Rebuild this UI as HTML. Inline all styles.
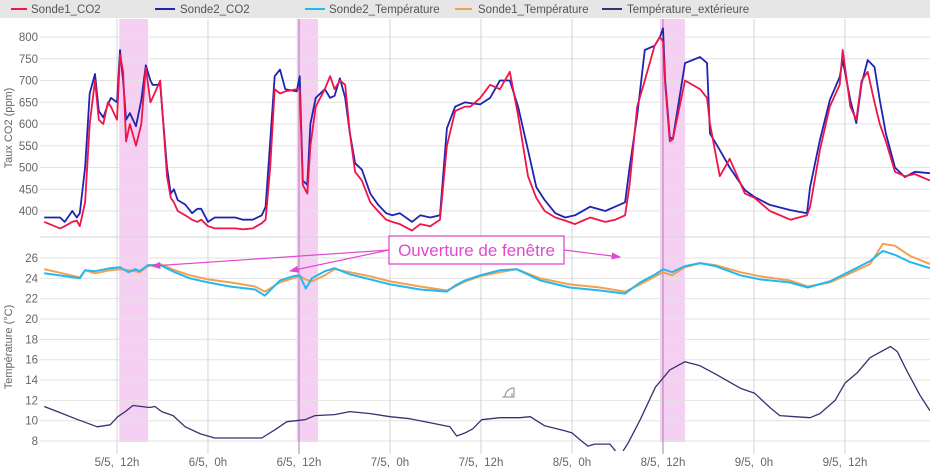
<!DOCTYPE html>
<html><head><meta charset="utf-8"><style>
body{margin:0;background:#fff;}
svg{display:block;font-family:"Liberation Sans",sans-serif;}
.xl{white-space:pre;}
</style></head><body>
<svg id="chart" width="930" height="471" viewBox="0 0 930 471">
<defs>
<clipPath id="clipTop"><rect x="44" y="18" width="886" height="219"/></clipPath>
<clipPath id="clipBot"><rect x="44" y="237" width="886" height="214"/></clipPath>
<marker id="arr" markerWidth="8" markerHeight="8" refX="7" refY="4" orient="auto"><path d="M0,1 L8,4 L0,7 z" fill="#e04ad0"/></marker>
</defs>
<rect x="0" y="0" width="930" height="18" fill="#e6e6e6"/>
<g font-size="11.5" fill="#555">
<g><line x1="11" y1="9" x2="27" y2="9" stroke="#f0144a" stroke-width="2"/><text x="31" y="13">Sonde1_CO2</text></g>
<g><line x1="155" y1="9" x2="175" y2="9" stroke="#1f24b0" stroke-width="2"/><text x="180" y="13">Sonde2_CO2</text></g>
<g><line x1="305" y1="9" x2="325" y2="9" stroke="#22b8f0" stroke-width="2"/><text x="329" y="13">Sonde2_Température</text></g>
<g><line x1="455" y1="9" x2="472" y2="9" stroke="#f5a050" stroke-width="2"/><text x="478" y="13">Sonde1_Température</text></g>
<g><line x1="602" y1="9" x2="622" y2="9" stroke="#3b2f70" stroke-width="2"/><text x="627" y="13">Température_extérieure</text></g>
</g>
<g id="bands"></g>
<g id="grid"></g>
<g id="axes" font-size="11.5" fill="#666"></g>
<g id="series"></g>
<text transform="translate(12,128) rotate(-90)" text-anchor="middle" font-size="11" fill="#666">Taux CO2 (ppm)</text>
<text transform="translate(12,347) rotate(-90)" text-anchor="middle" font-size="11" fill="#666">Température (°C)</text>
<g>
<line x1="389" y1="250" x2="152" y2="266" stroke="#e04ad0" stroke-width="1.2" marker-end="url(#arr)"/>
<line x1="389" y1="250" x2="290" y2="271" stroke="#e04ad0" stroke-width="1.2" marker-end="url(#arr)"/>
<line x1="564" y1="250" x2="620" y2="257" stroke="#e04ad0" stroke-width="1.2" marker-end="url(#arr)"/>
<rect x="389" y="236" width="175" height="28" fill="#fff" stroke="#e04ad0" stroke-width="1.3"/>
<text x="476.5" y="256" text-anchor="middle" font-size="17" fill="#e04ad0">Ouverture de fenêtre</text>
</g>
<g stroke="#888" fill="none" stroke-width="1"><path d="M502,397 L514,397 L514,388 A9,9 0 0 0 505,397"/><line x1="512" y1="393" x2="512" y2="397"/></g>
</svg>
<script>
const ns="http://www.w3.org/2000/svg";
const co2Hours=[2.4,4.5,5.1,6.1,6.7,7.1,7.8,8.4,9.1,9.6,10.2,10.8,11.2,12,12.4,12.8,13.2,13.7,14.5,15.2,15.8,16.4,16.7,17.7,18.6,19.1,19.5,20,21,21.9,22.6,23.1,24,24.9,27.6,28.6,29.9,31.1,31.6,32.2,32.8,33.5,34.2,35.7,36.1,36.5,37.1,37.5,38.2,39.4,40.1,40.7,41.4,42.1,42.7,43.4,44.3,45.4,46.4,47.5,48.3,49.3,50.9,52,53.3,54.6,55.5,56.6,57.9,58.6,59.9,61.2,62.5,63.8,64.9,66.2,67.3,68.4,69.8,71.1,72.4,74.4,76.4,77.7,79,79.6,80.6,81.6,82.9,83.6,84,84.3,84.9,85.3,86.9,88.9,89.8,90.2,91.5,92.8,94.8,96.1,98.1,100.8,103,103.4,104.7,106,107.3,107.7,108.7,109.5,110.2,111,111.9,112.6,113.4,114.6,115.9,117.2,119.2];
const co2Sonde2=[385,385,375,400,385,395,500,670,715,630,615,645,660,650,770,700,610,625,595,655,735,700,690,690,500,440,450,425,415,395,405,405,375,385,385,380,380,390,410,560,710,725,680,675,710,470,460,600,660,680,660,665,705,660,580,510,495,440,415,395,390,395,375,390,385,390,590,640,650,648,645,660,700,700,640,540,455,425,395,385,390,410,400,410,420,500,620,770,780,800,820,700,570,565,740,754,740,578,540,500,448,432,414,402,395,455,563,655,708,747,655,602,693,747,731,655,578,500,478,490,487];
const co2Sonde1=[375,360,365,375,378,365,420,600,700,610,600,650,640,610,760,720,560,600,550,600,730,650,660,700,480,430,420,400,390,380,375,380,365,360,360,358,360,372,380,500,680,670,675,680,680,460,440,550,640,680,710,680,700,690,580,490,470,420,400,380,375,370,355,370,365,380,550,630,640,640,660,690,680,720,620,480,430,400,385,378,370,385,375,380,390,460,640,700,780,800,790,690,560,565,700,680,660,600,480,520,440,430,400,380,390,410,540,640,690,770,640,610,700,720,650,600,560,490,480,485,470];
const tempHours=[2.4,7.1,7.8,9.1,11.1,12.4,13.5,14.4,15.0,16.1,17.7,19.6,21.6,24.0,26.9,30.2,31.5,33.5,35.2,36.1,36.9,37.7,39.4,40.7,42.7,45.4,48.0,52.0,55.5,56.6,57.9,59.9,62.5,64.7,67.8,71.7,75.7,79.0,81.0,83.0,84.0,85.2,86.9,88.9,90.9,94.2,96.8,100.7,103.1,106.0,108.7,111.3,113.0,114.6,116.6,119.2];
const tempSonde2=[24.5,24.0,24.8,24.7,25.0,25.1,24.6,24.9,24.7,25.3,25.3,24.6,24.0,23.6,23.2,22.9,22.3,23.8,24.2,24.3,23.0,24.0,24.7,25.0,24.4,23.9,23.4,22.9,22.7,23.3,23.8,24.3,24.8,24.9,23.8,23.1,22.8,22.5,23.6,24.4,24.9,24.6,25.2,25.5,25.2,24.3,23.9,23.6,23.1,23.7,24.7,25.7,26.7,26.3,25.6,25.0];
const tempSonde1=[24.9,24.1,24.8,24.5,24.8,24.9,24.8,24.7,24.6,25.2,25.4,24.8,24.3,23.9,23.6,23.2,22.7,23.6,24.0,24.2,23.9,23.7,24.3,24.9,24.6,24.2,23.7,23.2,22.8,23.2,23.7,24.2,24.6,24.9,24.0,23.4,23.1,22.7,23.4,24.2,24.6,24.3,25.1,25.5,25.3,24.6,24.2,23.8,23.2,23.6,24.5,25.4,27.4,27.2,26.2,25.4];
const extHours=[2.4,4.5,6.5,9.4,11.1,12.1,13.1,14.1,16.3,17.0,17.9,19.4,21.0,23.0,24.9,27.6,31.1,32.8,34.4,36.8,38.1,40.7,42.7,45.4,48.0,50.6,53.3,55.9,56.8,57.9,58.9,60.1,62.5,65.1,66.5,68.4,71.1,72.0,73.1,74.1,75.0,77.0,78.3,79.4,81.0,83.0,84.9,86.9,88.9,90.9,94.2,96.1,98.1,99.4,101.4,103.4,104.7,106.7,108.0,109.6,111.3,114.0,114.9,116.1,117.9,119.2];
const extTemp=[11.4,10.8,10.2,9.4,9.6,10.4,10.9,11.5,11.3,11.4,10.9,10.5,9.4,8.7,8.3,8.3,8.3,9.1,9.9,10.1,10.5,10.6,10.9,10.7,10.4,10.2,9.8,9.4,8.5,8.8,9.2,10.1,10.3,10.3,10.4,9.5,9.0,8.8,8.1,7.5,7.7,7.7,6.5,7.8,10.1,13.3,15.0,15.8,15.4,14.6,13.2,12.7,11.3,10.5,10.4,10.3,10.7,12.0,13.7,14.7,16.2,17.3,16.8,15.0,12.5,11.0];
const xTickHours=[12,24,36,48,60,72,84,96,108];
const xTickLabels=["5/5,  12h","6/5,  0h","6/5,  12h","7/5,  0h","7/5,  12h","8/5,  0h","8/5,  12h","9/5,  0h","9/5,  12h"];
const co2Ticks=[400,450,500,550,600,650,700,750,800];
const tempTicks=[8,10,12,14,16,18,20,22,24,26];
const bandStarts=[12.3,35.7,83.6];
const bandEnds=[16.1,38.5,86.9];

const X=h=>26+h*7.583;
const YC=v=>37+(800-v)*0.435;
const YT=v=>258+(26-v)*10.17;
function mk(tag,attrs,parent){const e=document.createElementNS(ns,tag);for(const k in attrs)e.setAttribute(k,attrs[k]);parent.appendChild(e);return e;}
const grid=document.getElementById('grid'),axes=document.getElementById('axes'),series=document.getElementById('series'),bands=document.getElementById('bands');

bandStarts.forEach((s,i)=>{
  const r=mk('rect',{x:X(s),y:19,width:X(bandEnds[i])-X(s),height:423,fill:'#f5d0f2'},bands);
  
  
});
co2Ticks.forEach(v=>{
  const l=mk('line',{x1:40,x2:930,y1:YC(v),y2:YC(v),stroke:'#e2e2e2','stroke-width':1},grid);
  
  
  const t=mk('text',{x:38,y:YC(v)+4,'text-anchor':'end'},axes);
  t.textContent=v;
  
  
});
mk('line',{x1:40,x2:930,y1:237,y2:237,stroke:'#d6d6d6','stroke-width':1},grid);
tempTicks.forEach(v=>{
  const l=mk('line',{x1:40,x2:930,y1:YT(v),y2:YT(v),stroke:'#e2e2e2','stroke-width':1},grid);
  
  
  const t=mk('text',{x:38,y:YT(v)+4,'text-anchor':'end'},axes);
  t.textContent=v;
  
  
});
xTickHours.forEach((h,i)=>{
  const inBand=bandStarts.some((s,j)=>h>=s&&h<=bandEnds[j]);
  const l=mk('line',{x1:X(h),x2:X(h),y1:19,y2:454,stroke:inBand?'#b07ab0':'#d4d4d4','stroke-width':1},grid);
  
  
  const t=mk('text',{x:X(h),y:466,'text-anchor':'middle','class':'xl'},axes);
  t.textContent=xTickLabels[i];
  
  
});
function line(hs,vs,Y,color,w,clip,name){
  const d=hs.map((h,i)=>(i?'L':'M')+X(h).toFixed(1)+','+Y(vs[i]).toFixed(1)).join('');
  const p=mk('path',{d:d,fill:'none',stroke:color,'stroke-width':w,'stroke-linejoin':'round','clip-path':'url(#'+clip+')'},series);
  
  
}
line(extHours,extTemp,YT,'#3b2f70',1.3,'clipBot','series-temperature-exterieure');
line(tempHours,tempSonde1,YT,'#f5a050',2,'clipBot','series-sonde1-temperature');
line(tempHours,tempSonde2,YT,'#22b8f0',2,'clipBot','series-sonde2-temperature');
line(co2Hours,co2Sonde2,YC,'#1f24b0',1.8,'clipTop','series-sonde2-co2');
line(co2Hours,co2Sonde1,YC,'#f0144a',1.8,'clipTop','series-sonde1-co2');
</script>
</body></html>
